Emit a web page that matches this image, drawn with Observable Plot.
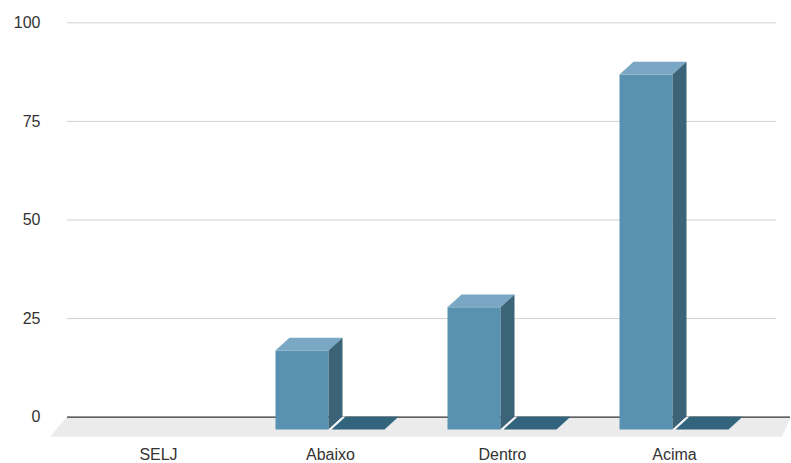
<!DOCTYPE html>
<html><head><meta charset="utf-8">
<script src="https://cdn.jsdelivr.net/npm/d3@7"></script>
<script src="https://cdn.jsdelivr.net/npm/@observablehq/plot@0.6"></script>
<style>body{margin:0;background:#fff}</style>
</head><body><div id="chart"></div>
<script>
const categories = ["SELJ", "Abaixo", "Dentro", "Acima"];
const seriesA = [null, 20, 31, 90];
const seriesB = [null, 0, 0, 0];
const yTicks = [0, 25, 50, 75, 100];

const rows = [];
categories.forEach((c, i) => {
  rows.push({category: c, series: 0, value: seriesA[i]});
  rows.push({category: c, series: 1, value: seriesB[i]});
});
const data = rows.filter(d => d.value != null);

const DX = 14, DY = -12.8, BW = 53, GAP = 3;
const colors = {front: "#5991b1", top: "#7aa7c3", side: "#3c6479", flat: "#33647d", floor: "#ebebeb", gap: "#f7f7f7"};

function poly(g, pts, fill) {
  g.append("polygon").attr("points", pts.map(p => p.join(",")).join(" ")).attr("fill", fill);
}

function bars(index, scales, values, dims) {
  const g = d3.create("svg:g");
  const x = scales.x, y = scales.y;
  const bw = x.bandwidth ? x.bandwidth() : 0;
  for (const i of index) {
    const d = data[i];
    const c = x(d.category) + bw / 2;
    const L = c - BW - GAP / 2 + d.series * (BW + GAP);
    const R = L + BW;
    const y0 = y(0) - DY;
    const yt = y(d.value) - DY;
    if (d.value > 0) {
      poly(g, [[L, yt], [R, yt], [R, y0], [L, y0]], colors.front);
      poly(g, [[L, yt], [L + DX, yt + DY], [R + DX, yt + DY], [R, yt]], colors.top);
      poly(g, [[R, yt], [R + DX, yt + DY], [R + DX, y0 + DY], [R, y0]], colors.side);
    } else {
      poly(g, [[L - GAP, y0], [L - GAP + DX, y0 + DY], [L + DX, y0 + DY], [L, y0]], colors.gap);
      poly(g, [[L, y0], [L + DX, y0 + DY], [R + DX, y0 + DY], [R, y0]], colors.flat);
    }
  }
  return g.node();
}

function floor(index, scales, values, dims) {
  const g = d3.create("svg:g");
  const y0 = scales.y(0);
  const l = dims.marginLeft, r = dims.width;
  poly(g, [[l, y0], [r, y0], [r - 9, y0 + 20], [l - 17, y0 + 20]], colors.floor);
  return g.node();
}

const chart = Plot.plot({
  width: 791,
  height: 463,
  marginTop: 22,
  marginBottom: 46,
  marginLeft: 67,
  marginRight: 15,
  style: {fontFamily: "'Liberation Sans', Arial, sans-serif", background: "#fff", color: "#333"},
  x: {type: "band", domain: categories, range: [71, 761], padding: 0, label: null},
  y: {domain: [0, 100], range: [416.7, 22.3], label: null},
  marks: [
    Plot.ruleY([0], {render: floor}),
    Plot.ruleY(yTicks.filter(t => t > 0), {stroke: "#d0d0d0", strokeWidth: 1}),
    Plot.ruleY([0], {stroke: "#333", strokeWidth: 1.3, insetRight: -14}),
    Plot.barY(data, {x: "category", y: "value", render: bars}),
    Plot.axisY(yTicks, {tickSize: 0, tickPadding: 27, fontSize: 16, fill: "#333"}),
    Plot.axisX({tickSize: 0, tickPadding: 31, fontSize: 16, fill: "#333"})
  ]
});
document.getElementById("chart").append(chart);
</script>
</body></html>
